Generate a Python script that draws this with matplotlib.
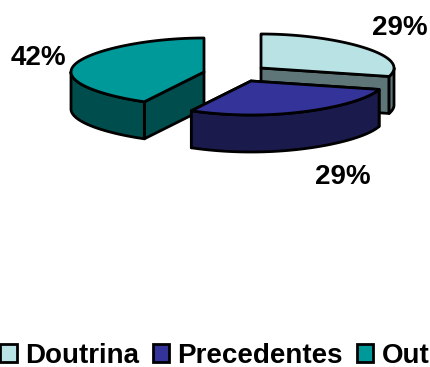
import numpy as np
import matplotlib
matplotlib.use("Agg")
import matplotlib.pyplot as plt
from matplotlib.patches import Patch, Polygon

categories = ["Doutrina", "Precedentes", "Outros"]
shares = [29, 29, 42]
pct_labels = ["29%", "29%", "42%"]
top_colors = ["#B9E2E5", "#333399", "#009999"]
side_colors = ["#5F7678", "#1A1A4D", "#004D4D"]

# Pie geometry, in pixels of the 430x367 canvas
apexes = [(261, 68), (251, 81), (204, 72)]
rx, ry, depth = 133, 34, 37
pinch = 0.09
label_pos = [(400, 28), (343, 177), (38.5, 58)]
draw_order = [0, 2, 1]
edge_w = 2.0

plt.rcParams["font.family"] = ["Liberation Sans", "DejaVu Sans"]
fig = plt.figure(figsize=(4.3, 3.67), dpi=100)
ax = fig.add_axes([0, 0, 1, 1])
ax.set_xlim(0, 430)
ax.set_ylim(367, 0)
ax.axis("off")


def rim(apex, a):
    # Rim of the tilted disc, slightly narrowed toward its near and far ends
    a = np.radians(a)
    x = rx * np.cos(a) * (1 - pinch * np.sin(a) ** 2)
    return np.column_stack([apex[0] + x, apex[1] - ry * np.sin(a)])


def shape(points, color, z):
    ax.add_patch(Polygon(points, closed=True, facecolor=color, edgecolor="black",
                         linewidth=edge_w, joinstyle="round", zorder=z))


# Slices run clockwise from twelve o'clock
ends = 90 - 3.6 * np.cumsum(shares)
starts = np.concatenate([[90], ends[:-1]])

for rank, i in enumerate(draw_order):
    apex, a0, a1 = apexes[i], starts[i], ends[i]
    z = 2 + rank * 3
    # Cut faces on the near half of the slice
    for a in (a0, a1):
        if np.sin(np.radians(a)) < -1e-6:
            p = rim(apex, [a])[0]
            shape([apex, p, (p[0], p[1] + depth), (apex[0], apex[1] + depth)],
                  side_colors[i], z)
    # Outer wall, only where the rim faces the viewer
    lo, hi = max(a1, -180), min(a0, 0)
    if hi > lo:
        arc = rim(apex, np.linspace(hi, lo, 80))
        lower = arc[::-1] + [0, depth]
        shape(np.vstack([arc, lower]), side_colors[i], z + 1)
    # Top surface
    arc = rim(apex, np.linspace(a0, a1, 120))
    shape(np.vstack([[apex], arc]), top_colors[i], z + 2)

for text, (x, y) in zip(pct_labels, label_pos):
    ax.text(x, y, text, ha="center", va="center", fontsize=20,
            fontweight="bold", color="black", zorder=20)

handles = [Patch(facecolor=c, edgecolor="black", linewidth=edge_w) for c in top_colors]
ax.legend(handles, categories, ncol=3, loc="lower left",
          bbox_to_anchor=(0 / 430, 1 - 369 / 367), frameon=False,
          prop={"size": 20, "weight": "bold"},
          handlelength=0.6, handleheight=0.62, handletextpad=0.29,
          columnspacing=0.5, borderpad=0, borderaxespad=0, labelspacing=0)

fig.savefig("out.png", dpi=100)
